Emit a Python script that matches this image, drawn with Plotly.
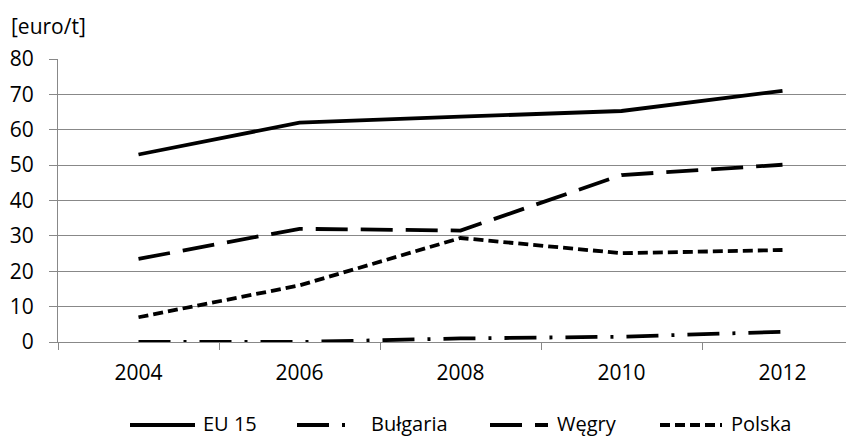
import plotly.graph_objects as go

years = ["2004", "2006", "2008", "2010", "2012"]
eu15 = [53, 62, 63.7, 65.3, 71]
bulgaria = [0, 0, 1, 1.5, 2.9]
wegry = [23.5, 32, 31.5, 47.2, 50.1]
polska = [7, 16, 29.4, 25.1, 26]
series_names = ["EU 15", "Bułgaria", "Węgry", "Polska"]
y_ticks = [0, 10, 20, 30, 40, 50, 60, 70, 80]
y_label = "[euro/t]"

FONT = "Open Sans"
OFF = 8  # page body margin
W, H = 854 - OFF, 438 - OFF
L, R, T, B = 58 - OFF, 0, 59 - OFF, 96

styles = [
    dict(color="black", width=3.8, dash="solid"),
    dict(color="black", width=3.8, dash="32px,13px,3px,13px"),
    dict(color="black", width=3.8, dash="32px,13px"),
    dict(color="black", width=3.8, dash="10px,5px"),
]
data = [eu15, bulgaria, wegry, polska]

fig = go.Figure()
for name, vals, st in zip(series_names, data, styles):
    fig.add_trace(go.Scatter(x=years, y=vals, mode="lines", name=name,
                             line=st, showlegend=False))

pw = W - L - R
ph = H - T - B

def px_x(px):
    return (px - OFF - L) / pw

def px_y(py):
    return (H - B - (py - OFF)) / ph

# custom legend (samples + labels), in screen pixel targets
legend_items = [
    (130, 195, 202),
    (297, 350, 370),
    (490, 548, 556),
    (660, 722, 730),
]
leg_y = 425
shapes = []
annotations = []
for (x0, x1, xt), name, st in zip(legend_items, series_names, styles):
    shapes.append(dict(type="line", xref="paper", yref="paper",
                       x0=px_x(x0), x1=px_x(x1), y0=px_y(leg_y), y1=px_y(leg_y),
                       line=st))
    annotations.append(dict(text=name, xref="paper", yref="paper",
                            x=px_x(xt), y=px_y(leg_y - 2), xanchor="left",
                            yanchor="middle", showarrow=False, borderpad=0,
                            font=dict(family=FONT, size=20, color="black")))

annotations.append(dict(text=y_label, xref="paper", yref="paper",
                        x=px_x(9), y=px_y(26), xanchor="left", yanchor="middle",
                        showarrow=False,
                        font=dict(family=FONT, size=21, color="black")))

fig.update_layout(
    width=W, height=H,
    margin=dict(l=L, r=R, t=T, b=B, pad=0),
    paper_bgcolor="white", plot_bgcolor="white",
    font=dict(family=FONT, size=21, color="black"),
    shapes=shapes, annotations=annotations,
    showlegend=False,
)
fig.update_xaxes(
    type="category", categoryorder="array", categoryarray=years,
    range=[-0.5, -0.5 + (854 - 58) / 161.0],
    tickson="boundaries", ticks="outside", ticklen=7, tickwidth=1.3,
    tickcolor="#888888", showline=True, linecolor="#888888", linewidth=1.3,
    showgrid=False, zeroline=False, ticklabelstandoff=12,
    tickfont=dict(family=FONT, size=21, color="black"),
)
fig.update_yaxes(
    range=[0, 80], tickvals=y_ticks, ticks="outside", ticklen=8, tickwidth=1.3,
    tickcolor="#888888", showline=True, linecolor="#888888", linewidth=1.3,
    showgrid=True, gridcolor="#888888", gridwidth=1.3, zeroline=False,
    ticklabelstandoff=11,
    tickfont=dict(family=FONT, size=21, color="black"),
)

fig.write_html("out.html")
